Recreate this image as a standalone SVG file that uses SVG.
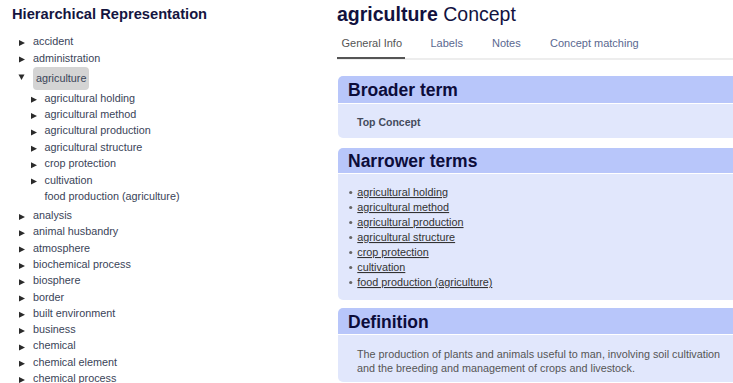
<svg xmlns="http://www.w3.org/2000/svg" width="733" height="383" viewBox="0 0 733 383">
<style>
text{font-family:"Liberation Sans",Arial,sans-serif}
.title{font-size:14.7px;font-weight:bold;fill:#15153f}
.ti{font-size:10.8px;fill:#3a4458}
.tri{fill:#2b2b2b}
.ctitle{font-size:19.5px;fill:#12123f}
.tab{font-size:11px;fill:#5a6890}
.hdr{fill:#b8c6fa}
.body{fill:#e1e7fc}
.htxt{font-size:17.5px;font-weight:bold;fill:#0c0c3a}
.lnk{font-size:10.8px;fill:#333;text-decoration:underline}
.bul{fill:#666}
.def{font-size:10.8px;fill:#555}
</style>
<defs>
<path id="rt" d="M0,-5 L6,-2 L0,1 Z"/>
</defs>
<rect width="733" height="383" fill="#fff"/>
<g id="tree">
<text class="title" x="12" y="18.5">Hierarchical Representation</text>
<g id="n-accident"><use href="#rt" class="tri" x="19" y="45"/><text class="ti" x="33" y="45">accident</text></g>
<g id="n-administration"><use href="#rt" class="tri" x="19" y="61.5"/><text class="ti" x="33" y="61.5">administration</text></g>
<g id="n-agriculture"><rect x="33" y="67" width="56" height="23" rx="4" fill="#d4d4d4"/><path class="tri" d="M18.5,74.5 L24.5,74.5 L21.5,80 Z"/><text class="ti" x="36" y="82.3">agriculture</text></g>
<g id="n-holding"><use href="#rt" class="tri" x="31" y="101.7"/><text class="ti" x="44.5" y="101.7">agricultural holding</text></g>
<g id="n-method"><use href="#rt" class="tri" x="31" y="118"/><text class="ti" x="44.5" y="118">agricultural method</text></g>
<g id="n-production"><use href="#rt" class="tri" x="31" y="134.4"/><text class="ti" x="44.5" y="134.4">agricultural production</text></g>
<g id="n-structure"><use href="#rt" class="tri" x="31" y="150.8"/><text class="ti" x="44.5" y="150.8">agricultural structure</text></g>
<g id="n-crop"><use href="#rt" class="tri" x="31" y="167.2"/><text class="ti" x="44.5" y="167.2">crop protection</text></g>
<g id="n-cultivation"><use href="#rt" class="tri" x="31" y="183.5"/><text class="ti" x="44.5" y="183.5">cultivation</text></g>
<g id="n-food"><text class="ti" x="44.5" y="199.8">food production (agriculture)</text></g>
<g id="n-analysis"><use href="#rt" class="tri" x="19" y="219"/><text class="ti" x="33" y="219">analysis</text></g>
<g id="n-animal"><use href="#rt" class="tri" x="19" y="235.3"/><text class="ti" x="33" y="235.3">animal husbandry</text></g>
<g id="n-atmosphere"><use href="#rt" class="tri" x="19" y="251.6"/><text class="ti" x="33" y="251.6">atmosphere</text></g>
<g id="n-biochem"><use href="#rt" class="tri" x="19" y="267.9"/><text class="ti" x="33" y="267.9">biochemical process</text></g>
<g id="n-biosphere"><use href="#rt" class="tri" x="19" y="284.2"/><text class="ti" x="33" y="284.2">biosphere</text></g>
<g id="n-border"><use href="#rt" class="tri" x="19" y="300.5"/><text class="ti" x="33" y="300.5">border</text></g>
<g id="n-built"><use href="#rt" class="tri" x="19" y="316.8"/><text class="ti" x="33" y="316.8">built environment</text></g>
<g id="n-business"><use href="#rt" class="tri" x="19" y="333.1"/><text class="ti" x="33" y="333.1">business</text></g>
<g id="n-chemical"><use href="#rt" class="tri" x="19" y="349.4"/><text class="ti" x="33" y="349.4">chemical</text></g>
<g id="n-chemel"><use href="#rt" class="tri" x="19" y="365.7"/><text class="ti" x="33" y="365.7">chemical element</text></g>
<g id="n-chemproc"><use href="#rt" class="tri" x="19" y="382"/><text class="ti" x="33" y="382">chemical process</text></g>
</g>
<g id="connectors"></g>
<g id="concept">
<text class="ctitle" x="337" y="21"><tspan font-weight="bold">agriculture</tspan> Concept</text>
<g id="tabs">
<text class="tab" x="341.5" y="47" style="fill:#555">General Info</text>
<text class="tab" x="430.5" y="47">Labels</text>
<text class="tab" x="492" y="47">Notes</text>
<text class="tab" x="550" y="47">Concept matching</text>
<rect x="337" y="58.5" width="396" height="1" fill="#dcdcdc"/>
<rect x="337" y="57" width="68" height="2" fill="#555"/>
</g>
<g id="broader">
<path class="hdr" d="M338,81 a5,5 0 0 1 5,-5 H733 V103 H338 Z"/>
<path class="body" d="M338,104 H733 V138 H343 a5,5 0 0 1 -5,-5 Z"/>
<text class="htxt" x="348" y="95.5">Broader term</text>
<text x="357" y="125.5" font-size="10.5" font-weight="bold" fill="#444b5c">Top Concept</text>
</g>
<g id="narrower">
<path class="hdr" d="M338,153 a5,5 0 0 1 5,-5 H733 V173 H338 Z"/>
<path class="body" d="M338,174 H733 V300 H343 a5,5 0 0 1 -5,-5 Z"/>
<text class="htxt" x="348" y="167">Narrower terms</text>
<circle class="bul" cx="350.7" cy="192.5" r="1.6"/><text class="lnk" x="357.3" y="196">agricultural holding</text>
<circle class="bul" cx="350.7" cy="207.5" r="1.6"/><text class="lnk" x="357.3" y="211">agricultural method</text>
<circle class="bul" cx="350.7" cy="222.5" r="1.6"/><text class="lnk" x="357.3" y="226">agricultural production</text>
<circle class="bul" cx="350.7" cy="237.5" r="1.6"/><text class="lnk" x="357.3" y="241">agricultural structure</text>
<circle class="bul" cx="350.7" cy="252.5" r="1.6"/><text class="lnk" x="357.3" y="256">crop protection</text>
<circle class="bul" cx="350.7" cy="267.5" r="1.6"/><text class="lnk" x="357.3" y="271">cultivation</text>
<circle class="bul" cx="350.7" cy="282.5" r="1.6"/><text class="lnk" x="357.3" y="286">food production (agriculture)</text>
</g>
<g id="definition">
<path class="hdr" d="M338,313 a5,5 0 0 1 5,-5 H733 V334 H338 Z"/>
<path class="body" d="M338,335 H733 V382 H343 a5,5 0 0 1 -5,-5 Z"/>
<text class="htxt" x="348" y="328">Definition</text>
<text class="def" x="357" y="357.5">The production of plants and animals useful to man, involving soil cultivation</text>
<text class="def" x="357" y="371.5">and the breeding and management of crops and livestock.</text>
</g>
</g>
</svg>
